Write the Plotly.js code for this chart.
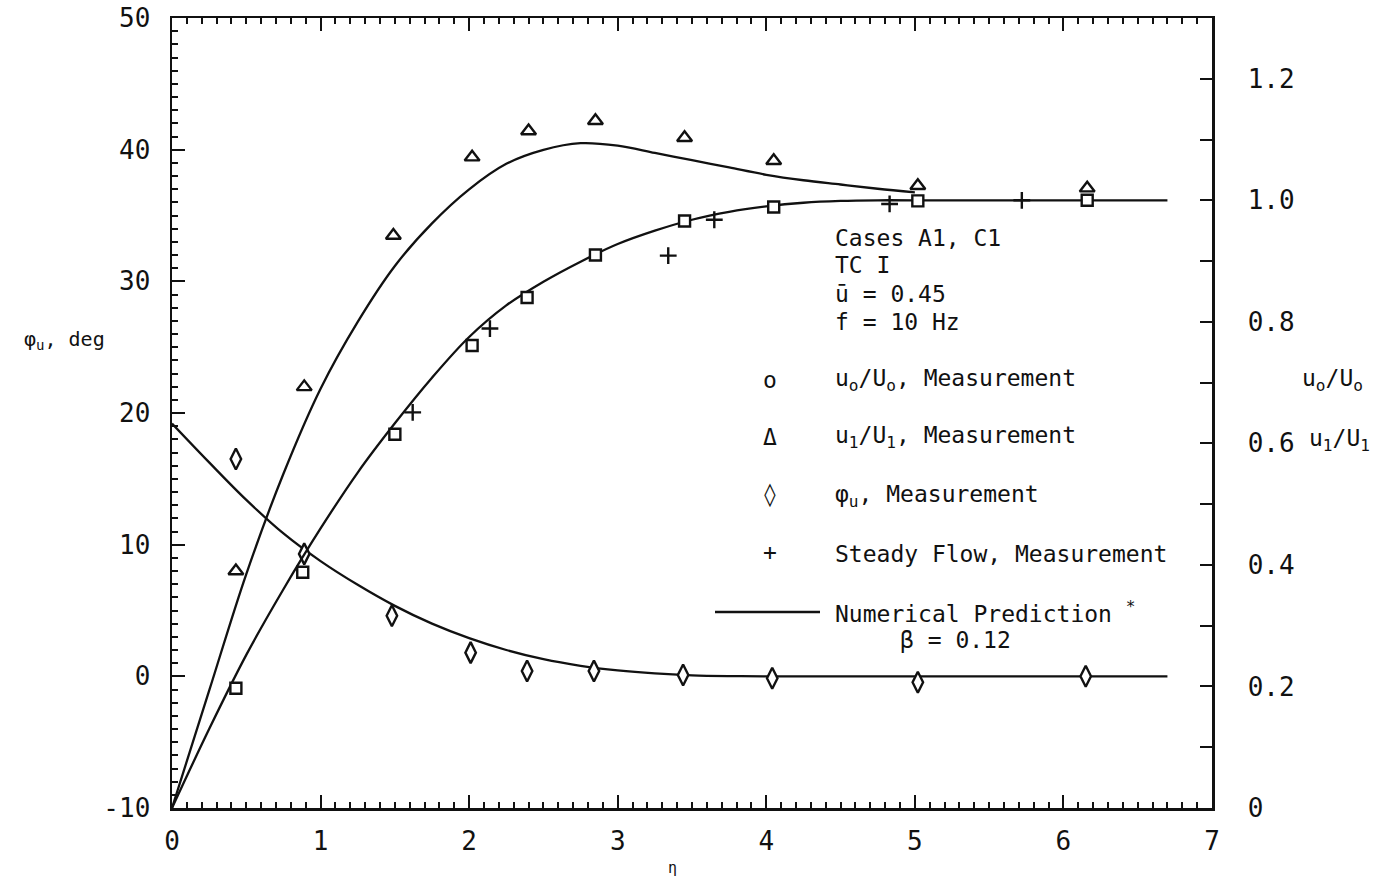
<!DOCTYPE html>
<html>
<head>
<meta charset="utf-8">
<script src="https://cdn.plot.ly/plotly-3.0.1.min.js"></script>
<style>
  html, body { margin: 0; padding: 0; background: #fff; }
  #chart { width: 1386px; height: 882px; }
</style>
</head>
<body>
<div id="chart"></div>
<script>
// Measured amplitude ratios (right axis) and phase (left axis) versus eta
const etaU0 = [0.43, 0.88, 1.50, 2.02, 2.39, 2.85, 3.45, 4.05, 5.02, 6.16];
const u0Meas = [0.197, 0.388, 0.615, 0.761, 0.840, 0.910, 0.966, 0.989, 0.999, 1.000];

const etaU1 = [0.43, 0.89, 1.49, 2.02, 2.40, 2.85, 3.45, 4.05, 5.02, 6.16];
const u1Meas = [0.390, 0.693, 0.942, 1.071, 1.114, 1.131, 1.103, 1.065, 1.024, 1.020];

const etaPhi = [0.43, 0.89, 1.48, 2.01, 2.39, 2.84, 3.44, 4.04, 5.02, 6.15];
const phiMeas = [16.5, 9.3, 4.6, 1.8, 0.4, 0.4, 0.1, -0.15, -0.45, 0.0];

const etaSteady = [1.62, 2.14, 3.34, 3.65, 4.83, 5.72];
const steadyMeas = [0.651, 0.789, 0.909, 0.968, 0.994, 1.000];

// Numerical prediction, beta = 0.12
const etaPredU1 = [0, 0.25, 0.5, 0.75, 1.0, 1.25, 1.5, 1.75, 2.0, 2.25, 2.5, 2.75, 3.0, 3.25, 3.5, 3.75, 4.0, 4.25, 4.5, 4.75, 5.0];
const u1Pred = [0, 0.193, 0.385, 0.550, 0.690, 0.800, 0.892, 0.962, 1.018, 1.060, 1.083, 1.094, 1.090, 1.078, 1.066, 1.054, 1.042, 1.033, 1.026, 1.019, 1.013];

const etaPredU0 = [0, 0.25, 0.5, 0.75, 1.0, 1.25, 1.5, 1.75, 2.0, 2.25, 2.5, 2.75, 3.0, 3.25, 3.5, 3.75, 4.0, 4.25, 4.5, 4.75, 5.0, 5.85, 6.7];
const u0Pred = [0, 0.130, 0.252, 0.360, 0.460, 0.552, 0.633, 0.708, 0.775, 0.827, 0.866, 0.899, 0.928, 0.950, 0.968, 0.981, 0.990, 0.996, 0.999, 1.000, 1.000, 1.000, 1.000];

const etaPredPhi = [0, 0.25, 0.5, 0.75, 1.0, 1.25, 1.5, 1.75, 2.0, 2.25, 2.5, 2.75, 3.0, 3.25, 3.5, 3.75, 4.0, 4.5, 5.0, 5.85, 6.7];
const phiPred = [19.2, 16.25, 13.4, 10.85, 8.75, 6.95, 5.35, 4.0, 2.9, 2.0, 1.3, 0.8, 0.45, 0.22, 0.08, 0.02, 0, 0, 0, 0, 0];

// Axis labels
const leftTicks = [-10, 0, 10, 20, 30, 40, 50];
const rightTicks = [0, 0.2, 0.4, 0.6, 0.8, 1.0, 1.2];
const rightTickText = ['0', '0.2', '0.4', '0.6', '0.8', '1.0', '1.2'];
const xTicks = [0, 1, 2, 3, 4, 5, 6, 7];

const INK = '#111';
const MONO = 'DejaVu Sans Mono, Liberation Mono, monospace';

const lineStyle = { color: INK, width: 2.3, shape: 'spline', smoothing: 1 };
const openMarker = (symbol, size) => ({
  symbol: symbol, size: size, color: '#fff',
  line: { color: INK, width: 2.4 }
});

const traces = [
  { x: etaPredU1, y: u1Pred, yaxis: 'y2', mode: 'lines', line: lineStyle, hoverinfo: 'skip' },
  { x: etaPredU0, y: u0Pred, yaxis: 'y2', mode: 'lines', line: lineStyle, hoverinfo: 'skip' },
  { x: etaPredPhi, y: phiPred, yaxis: 'y', mode: 'lines', line: lineStyle, hoverinfo: 'skip' },
  { x: etaU0, y: u0Meas, yaxis: 'y2', mode: 'markers', marker: openMarker('square', 11) },
  { x: etaPhi, y: phiMeas, yaxis: 'y', mode: 'markers', marker: openMarker('diamond-tall', 15) },
  { x: etaU1, y: u1Meas, yaxis: 'y2', mode: 'markers', marker: openMarker('triangle-up', 13) },
  { x: etaSteady, y: steadyMeas, yaxis: 'y2', mode: 'markers',
    marker: { symbol: 'cross-thin', size: 12, line: { color: INK, width: 2.4 } } }
];

// pixel helpers for the text block inside the plot frame
const L = 172, R = 1212, T = 18, B = 808;
const px = v => (v - L) / (R - L);
const py = v => (B - v) / (B - T);

const textFont = { family: MONO, size: 23, color: INK };
const note = (x, y, text, extra) => Object.assign({
  xref: 'paper', yref: 'paper', x: px(x), y: py(y), text: text,
  showarrow: false, xanchor: 'left', yanchor: 'middle', font: textFont
}, extra || {});

const annotations = [
  note(833, 238, 'Cases A1, C1'),
  note(833, 265, 'TC I'),
  note(833, 294, 'ū = 0.45'),
  note(833, 322, 'f = 10 Hz'),
  note(770, 380, 'o', { xanchor: 'center' }),
  note(833, 380, 'u<sub>o</sub>/U<sub>o</sub>, Measurement'),
  note(770, 437, 'Δ', { xanchor: 'center' }),
  note(833, 437, 'u<sub>1</sub>/U<sub>1</sub>, Measurement'),
  note(770, 494, '◊', { xanchor: 'center' }),
  note(833, 496, 'φ<sub>u</sub>, Measurement'),
  note(770, 552, '+', { xanchor: 'center' }),
  note(833, 554, 'Steady Flow, Measurement'),
  note(833, 612, 'Numerical Prediction <sup>*</sup>'),
  note(955, 640, 'β = 0.12', { xanchor: 'center' }),
  // axis titles
  note(22, 340, 'φ<sub>u</sub>, deg', { font: { family: MONO, size: 20, color: INK } }),
  note(1300, 380, 'u<sub>o</sub>/U<sub>o</sub>', { font: { family: MONO, size: 23, color: INK } }),
  note(1307, 440, 'u<sub>1</sub>/U<sub>1</sub>', { font: { family: MONO, size: 23, color: INK } }),
  note(672, 868, 'η', { xanchor: 'center', font: { family: MONO, size: 15, color: INK } })
];

const shapes = [
  { type: 'line', xref: 'paper', yref: 'paper', x0: px(715), x1: px(820), y0: py(612), y1: py(612),
    line: { color: INK, width: 2.3 } }
];

const tickFont = { family: MONO, size: 26, color: INK };

const layout = {
  width: 1386, height: 882,
  margin: { l: L, r: 1386 - R, t: T, b: 882 - B },
  paper_bgcolor: '#fff', plot_bgcolor: '#fff',
  showlegend: false,
  font: { family: MONO, color: INK },
  xaxis: {
    range: [0, 7], tickvals: xTicks, ticktext: xTicks.map(String),
    showgrid: false, zeroline: false, showline: true, linecolor: INK, linewidth: 2.5,
    mirror: 'ticks', ticks: 'inside', ticklen: 13, tickwidth: 2, tickcolor: INK,
    minor: { dtick: 0.1, ticks: 'inside', ticklen: 6, tickwidth: 2, tickcolor: INK },
    tickfont: tickFont, ticklabelstandoff: 8
  },
  yaxis: {
    range: [-10, 50], tickvals: leftTicks, ticktext: leftTicks.map(String),
    showgrid: false, zeroline: false, showline: true, linecolor: INK, linewidth: 2.5,
    ticks: 'inside', ticklen: 13, tickwidth: 2, tickcolor: INK,
    minor: { dtick: 1, ticks: 'inside', ticklen: 6, tickwidth: 2, tickcolor: INK },
    tickfont: tickFont, ticklabelstandoff: 14
  },
  yaxis2: {
    overlaying: 'y', side: 'right', range: [0, 1.3],
    tickvals: rightTicks, ticktext: rightTickText,
    showgrid: false, zeroline: false, showline: true, linecolor: INK, linewidth: 2.5,
    ticks: 'inside', ticklen: 12, tickwidth: 2, tickcolor: INK,
    minor: { dtick: 0.1, ticks: 'inside', ticklen: 12, tickwidth: 2, tickcolor: INK },
    tickfont: tickFont, ticklabelstandoff: 28
  },
  annotations: annotations,
  shapes: shapes
};

Plotly.newPlot('chart', traces, layout, { displayModeBar: false, staticPlot: true });
</script>
</body>
</html>
